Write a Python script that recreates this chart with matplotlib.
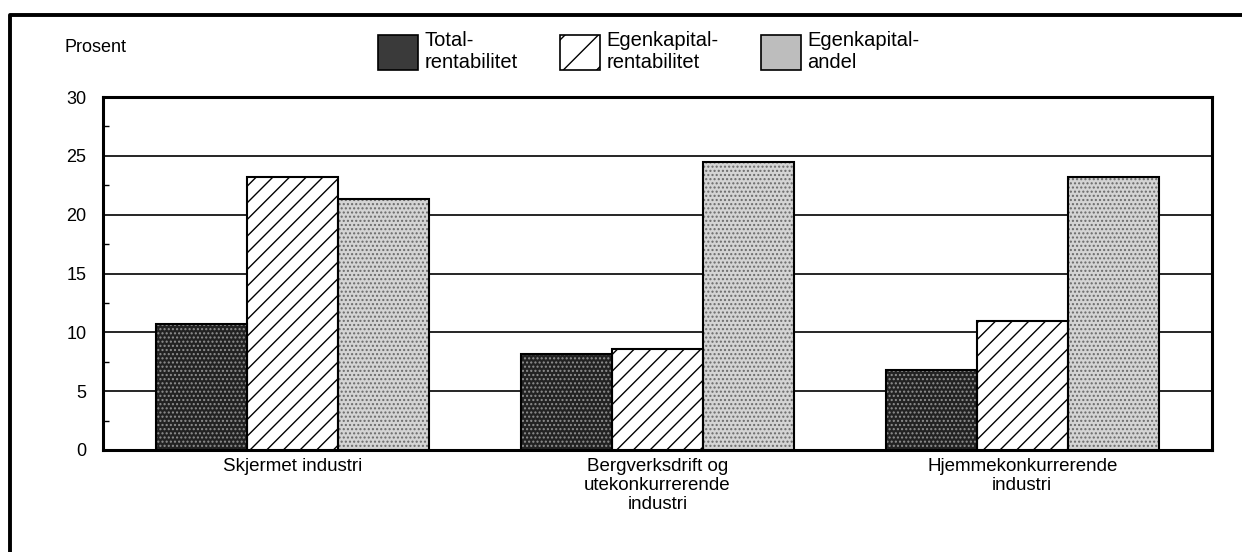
import numpy as np
import matplotlib
matplotlib.use("Agg")
import matplotlib.pyplot as plt
from matplotlib.patches import Patch
from matplotlib.lines import Line2D

plt.rcParams['font.family'] = ['Liberation Sans', 'DejaVu Sans']

# data
groups = ["Skjermet industri",
          "Bergverksdrift og\nutekonkurrerende\nindustri",
          "Hjemmekonkurrerende\nindustri"]
series = ["Total-\nrentabilitet", "Egenkapital-\nrentabilitet", "Egenkapital-\nandel"]
total_rent = [10.7, 8.2, 6.8]
ek_rent = [23.2, 8.6, 11.0]
ek_andel = [21.3, 24.5, 23.2]
yticks = [0, 5, 10, 15, 20, 25, 30]

# fill / hatch styling per series
styles = [
    dict(facecolor="#222222", hatch="....", hatchcol="#909090"),
    dict(facecolor="white", hatch="//", hatchcol="black"),
    dict(facecolor="#d4d4d4", hatch="....", hatchcol="#6a6a6a"),
]

fig = plt.figure(figsize=(12.42, 5.52), dpi=100)
ax = fig.add_axes([103/1242, 1-450/552, (1212-103)/1242, (450-97)/552])

x = np.arange(len(groups))
w = 0.25
values = [total_rent, ek_rent, ek_andel]
plt.rcParams['hatch.linewidth'] = 1.0
for i, (vals, st) in enumerate(zip(values, styles)):
    pos = x + (i - 1) * w
    ax.bar(pos, vals, w, facecolor=st["facecolor"], hatch=st["hatch"],
           edgecolor=st["hatchcol"], linewidth=0, zorder=3)
    ax.bar(pos, vals, w, facecolor="none", edgecolor="black",
           linewidth=1.5, zorder=4)

ax.set_xlim(-0.52, 2.52)
ax.set_ylim(0, 30)
ax.set_yticks(yticks)
ax.set_yticks(np.arange(2.5, 30, 5), minor=True)
ax.yaxis.grid(True, which="major", color="black", linewidth=1.2, zorder=1)
ax.set_axisbelow(True)
ax.tick_params(axis="y", which="major", length=0, pad=12, labelsize=13)
ax.tick_params(axis="y", which="minor", direction="in", length=4, width=1)
ax.set_xticks(x)
ax.set_xticklabels(groups, fontsize=13.5, linespacing=1.15)
ax.tick_params(axis="x", length=0, pad=6)
for s in ax.spines.values():
    s.set_linewidth(2.2)

fig.text(65/1242, 1-48/552, "Prosent", fontsize=13, va="center", ha="left")

handles = [Patch(facecolor="#3a3a3a", edgecolor="black", linewidth=1.2),
           Patch(facecolor="white", hatch="/", edgecolor="black", linewidth=1.2),
           Patch(facecolor="#bdbdbd", edgecolor="black", linewidth=1.2)]
fig.legend(handles, series, loc="upper left",
           bbox_to_anchor=(378/1242, 1-31/552), ncol=3, frameon=False,
           fontsize=14.5, handlelength=2.0, handleheight=2.3,
           handletextpad=0.3, columnspacing=2.1, borderpad=0,
           borderaxespad=0, labelspacing=0)

# outer frame (cropped box)
fig.add_artist(Line2D([10/1242, 10/1242, 1], [0, 1-15/552, 1-15/552],
                      transform=fig.transFigure, color="black", linewidth=2.8))

fig.savefig("out.png", dpi=100)
